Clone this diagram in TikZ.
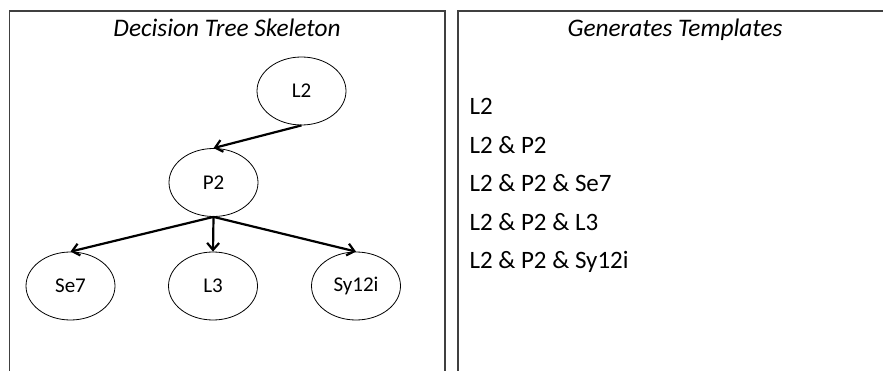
\documentclass[tikz,border=0pt]{standalone}
\usepackage{fontspec}
\setmainfont{Carlito}
\usetikzlibrary{arrows.meta,shapes.geometric}

\begin{document}
\begin{tikzpicture}[x=1pt, y=-1pt, >={Straight Barb[length=7pt,width=12pt]},
	leaf/.style={ellipse, draw, line width=0.8pt, minimum width=89pt, minimum height=68pt, inner sep=0pt, font=\fontsize{21}{24}\selectfont},
	edge/.style={->, line width=2.2pt},
	panel/.style={line width=1.3pt, draw=black!75},
	heading/.style={anchor=base, font=\fontsize{25.3}{28}\selectfont\itshape},
	tmpl/.style={anchor=base west, font=\fontsize{25}{28}\selectfont}]
	\useasboundingbox (0,0) rectangle (883,371);

	% two panels, both open at the bottom
	\draw[panel] (9.5,371) -- (9.5,11) -- (445,11) -- (445,371);
	\draw[panel] (458,371) -- (458,11) -- (883,11);
	\node[heading] (treetitle) at (227,37) {Decision Tree Skeleton};
	\node[heading] (listtitle) at (675,37) {Generates Templates};

	% the tree
	\node[leaf] (L2) at (301.5,91) {L2};
	\node[leaf] (P2) at (213.5,182.5) {P2};
	\node[leaf] (Se7) at (70.5,286) {Se7};
	\node[leaf] (L3) at (213,286) {L3};
	\node[leaf] (Sy12i) at (356,286) {Sy12i};

	\draw[edge] (L2.south) -- (P2.north);
	\foreach \n in {Se7,L3,Sy12i} {
		\draw[edge] (P2.south) -- (\n.north);
	}

	% templates read off the tree
	\foreach \t [count=\i from 0] in {L2, L2 \& P2, L2 \& P2 \& Se7, L2 \& P2 \& L3, L2 \& P2 \& Sy12i} {
		\node[tmpl] (tmpl\i) at (466,115+38.5*\i) {\t};
	}
\end{tikzpicture}
\end{document}
